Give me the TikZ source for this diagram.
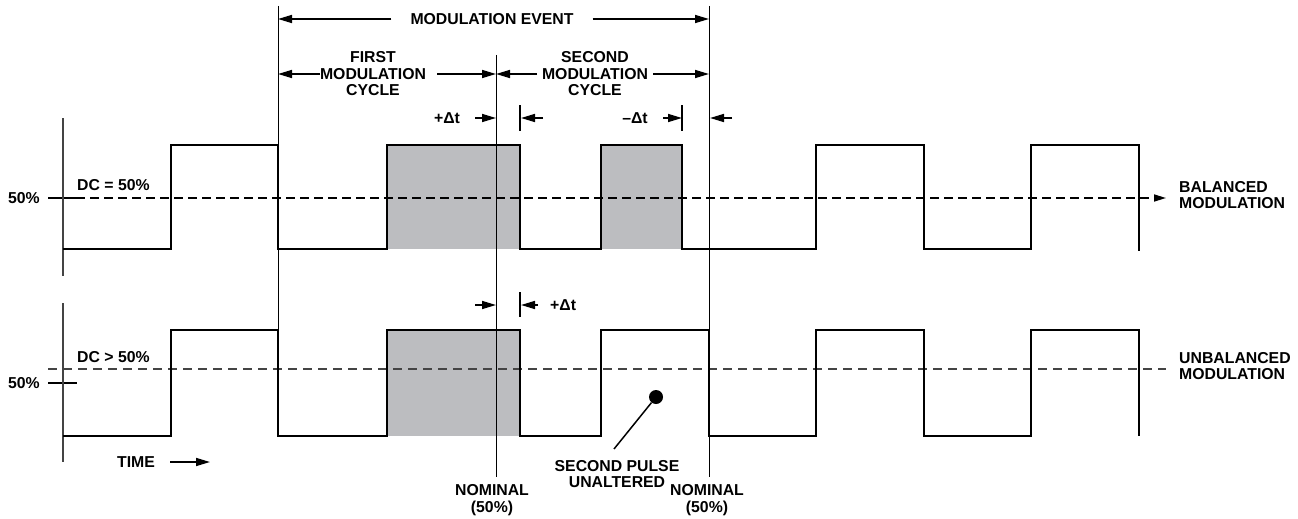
\documentclass[tikz,border=0pt]{standalone}
\usepackage{fontspec}
\setmainfont{Liberation Sans}
\usetikzlibrary{arrows.meta}
\definecolor{pulsegrey}{HTML}{BCBDC0}
\definecolor{axisgrey}{HTML}{444444}
\begin{document}
\begin{tikzpicture}[x=1pt,y=-1pt,
  lbl/.style={font=\bfseries\fontsize{15.8}{16.5}\selectfont, inner sep=0pt, align=center},
  wave/.style={line width=2.6pt, line join=miter},
  thin/.style={line width=1pt},
  dimarrow/.style={line width=1.6pt, -{Triangle[length=14pt,width=8pt]}},
  tick/.style={line width=1.2pt}]
\useasboundingbox (0,0) rectangle (1298,519);

% shaded pulses
\fill[pulsegrey] (387,145) rectangle (520,249);
\fill[pulsegrey] (601,145) rectangle (682,249);
\fill[pulsegrey] (387,330) rectangle (520,436);

% 50% reference lines
\draw[line width=1.6pt, dash pattern=on 9pt off 5pt, -{Triangle[length=12pt,width=7pt]}] (76,198) -- (1166,198);
\draw[line width=1.2pt, axisgrey, dash pattern=on 9pt off 6pt] (48,369) -- (1166,369);
\draw[line width=2pt] (48,198) -- (76,198);
\draw[line width=2pt] (48,383) -- (77,383);

% axes
\draw[line width=1.2pt, axisgrey] (63,118) -- (63,276);
\draw[line width=1.2pt, axisgrey] (63,303) -- (63,462);

% event / nominal lines
\draw[thin] (278,6) -- (278,436);
\draw[thin] (496,55) -- (496,477);
\draw[thin] (709,6) -- (709,477);

% waveforms
\draw[wave] (63,249) -- (171,249) -- (171,145) -- (278,145) -- (278,249) -- (387,249)
  -- (387,145) -- (520,145) -- (520,249) -- (601,249) -- (601,145) -- (682,145)
  -- (682,249) -- (816,249) -- (816,145) -- (924,145) -- (924,249) -- (1031,249)
  -- (1031,145) -- (1139,145) -- (1139,251);
\draw[wave] (63,436) -- (171,436) -- (171,330) -- (278,330) -- (278,436) -- (387,436)
  -- (387,330) -- (520,330) -- (520,436) -- (601,436) -- (601,330) -- (709,330)
  -- (709,436) -- (816,436) -- (816,330) -- (924,330) -- (924,436) -- (1031,436)
  -- (1031,330) -- (1139,330) -- (1139,436);

% Labels top
\node[lbl] (event) at (492,19) {MODULATION EVENT};
\coordinate (evL) at (278,19);
\coordinate (evR) at (709,19);
\draw[dimarrow] (event.west) ++(-19,0) -- (evL);
\draw[dimarrow] (event.east) ++(19,0) -- (evR);

\node[lbl] (first) at (373,74) {FIRST\\MODULATION\\CYCLE};
\node[lbl] (second) at (595,74) {SECOND\\MODULATION\\CYCLE};
\coordinate (c1L) at (278,74);
\coordinate (c1R) at (496,74);
\coordinate (c2L) at (496,74);
\coordinate (c2R) at (709,74);
\draw[dimarrow] (320,74) -- (c1L);
\draw[dimarrow] (437,74) -- (c1R);
\draw[dimarrow] (537,74) -- (c2L);
\draw[dimarrow] (653,74) -- (c2R);

% delta t row top
\node[lbl] (dt1) at (447,118) {+Δt};
\node[lbl] (dt2) at (635,118) {–Δt};
\draw[tick] (520,105) -- (520,131);
\draw[tick] (682,105) -- (682,131);
\coordinate (d1a) at (496,118);
\coordinate (d1b) at (521,118);
\coordinate (d2a) at (682,118);
\coordinate (d2b) at (710,118);
\draw[dimarrow] (475,118) -- (d1a);
\draw[dimarrow] (543,118) -- (d1b);
\draw[dimarrow] (663,118) -- (d2a);
\draw[dimarrow] (732,118) -- (d2b);

% delta t row bottom
\draw[tick] (520,292) -- (520,317);
\node[lbl, anchor=west] (dt3) at (550,305) {+Δt};
\coordinate (d3a) at (496,305);
\coordinate (d3b) at (521,305);
\draw[dimarrow] (475,305) -- (d3a);
\draw[dimarrow] (538,305) -- (d3b);

% left labels
\node[lbl, anchor=east] (p1) at (40,198) {50\%};
\node[lbl, anchor=east] (p2) at (40,383) {50\%};
\node[lbl, anchor=west] (dc1) at (77,185) {DC = 50\%};
\node[lbl, anchor=west] (dc2) at (77,357) {DC > 50\%};
\node[lbl, anchor=west] (time) at (117,462) {TIME};
\coordinate (timeend) at (210,462);
\draw[dimarrow] (170,462) -- (timeend);

% right labels
\node[lbl, anchor=west, align=left] (bal) at (1179,195) {BALANCED\\MODULATION};
\node[lbl, anchor=west, align=left] (unbal) at (1179,366) {UNBALANCED\\MODULATION};

% bottom labels
\node[lbl] (nom1) at (492,500) {NOMINAL\\(50\%)};
\node[lbl] (nom2) at (707,500) {NOMINAL\\(50\%)};
\node[lbl] (unalt) at (617,474) {SECOND PULSE\\UNALTERED};
\node[circle, fill=black, inner sep=0pt, minimum size=14pt] (dot) at (656,397) {};
\coordinate (lead) at (614,449);
\draw[line width=1.5pt] (dot) -- (lead);
\end{tikzpicture}
\end{document}
